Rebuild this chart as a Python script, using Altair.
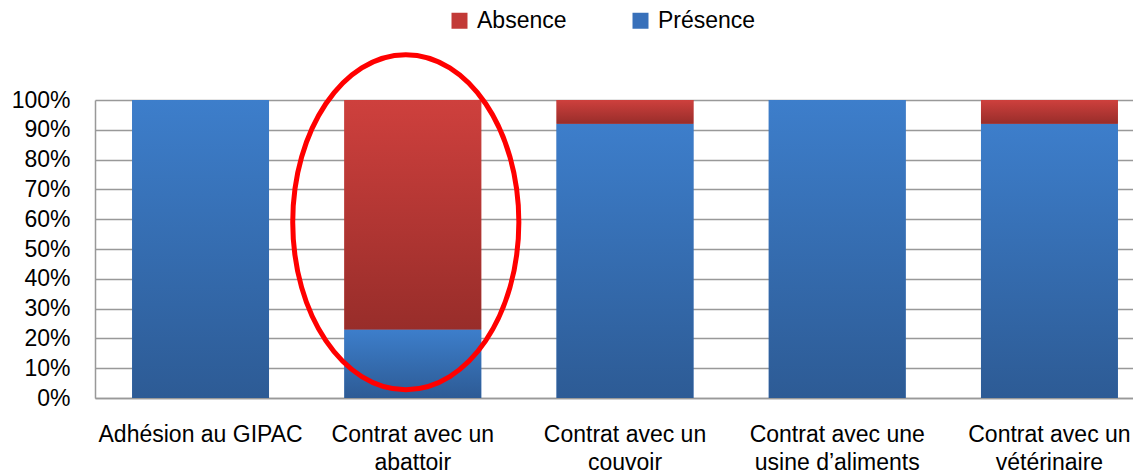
import altair as alt
import pandas as pd

categories = [
    "Adhésion au GIPAC",
    "Contrat avec un abattoir",
    "Contrat avec un couvoir",
    "Contrat avec une usine d’aliments",
    "Contrat avec un vétérinaire",
]
label_lines = [
    ["Adhésion au GIPAC"],
    ["Contrat avec un", "abattoir"],
    ["Contrat avec un", "couvoir"],
    ["Contrat avec une", "usine d’aliments"],
    ["Contrat avec un", "vétérinaire"],
]
presence = [100, 23, 92, 100, 92]
absence = [0, 77, 8, 0, 8]
series = ["Absence", "Présence"]
series_colors = ["#C23A37", "#3870BA"]
y_ticks = [0, 10, 20, 30, 40, 50, 60, 70, 80, 90, 100]

# annotation: red ellipse around the second category
ellipse_category = [categories[1]]
ellipse_centre = [59]

rows = []
for c, p, a in zip(categories, presence, absence):
    rows.append({"categorie": c, "serie": "Présence", "valeur": p, "ordre": 0})
    rows.append({"categorie": c, "serie": "Absence", "valeur": a, "ordre": 1})
df = pd.DataFrame(rows)

# label expression to break category names on two lines
expr = "datum.label"
for cat, lines in reversed(list(zip(categories, label_lines))):
    arr = "[" + ",".join("'" + l + "'" for l in lines) + "]"
    expr = f"datum.label == '{cat}' ? {arr} : ({expr})"

FONT = "Liberation Sans"

x_enc = alt.X(
    "categorie:N",
    sort=categories,
    scale=alt.Scale(range=[0, 1060], paddingInner=0.355, paddingOuter=0.175),
    axis=alt.Axis(
        title=None,
        labelAngle=0,
        labelExpr=expr,
        labelLimit=400,
        labelLineHeight=28,
        labelPadding=25,
        ticks=False,
        grid=False,
        domainColor="#999999",
        domainWidth=1.5,
    ),
)
y_enc = alt.Y(
    "y0:Q",
    scale=alt.Scale(domain=[0, 100], nice=False),
    axis=alt.Axis(
        title=None,
        values=y_ticks,
        labelExpr="datum.value + '%'",
        ticks=False,
        labelPadding=25,
        gridColor="#999999",
        gridWidth=1.5,
        domainColor="#999999",
        domainWidth=1.5,
    ),
)

blue_grad = alt.LinearGradient(
    gradient="linear",
    stops=[alt.GradientStop(color="#3D7ECB", offset=0),
           alt.GradientStop(color="#2D5B95", offset=1)],
    x1=0, x2=0, y1=0, y2=1,
)
red_grad = alt.LinearGradient(
    gradient="linear",
    stops=[alt.GradientStop(color="#CE403D", offset=0),
           alt.GradientStop(color="#982D2A", offset=1)],
    x1=0, x2=0, y1=0, y2=1,
)

base = alt.Chart(df).transform_stack(
    stack="valeur",
    groupby=["categorie"],
    as_=["y0", "y1"],
    sort=[alt.SortField("ordre", order="ascending")],
)

legend_layer = base.mark_bar().encode(
    x=x_enc,
    y=y_enc,
    y2="y1:Q",
    color=alt.Color(
        "serie:N",
        scale=alt.Scale(domain=series, range=series_colors),
        legend=alt.Legend(
            title=None,
            orient="none",
            direction="horizontal",
            legendX=353,
            legendY=-91,
            symbolType="square",
            symbolSize=256,
            symbolStrokeWidth=0,
            labelFontSize=23,
            labelFont=FONT,
            labelColor="#000000",
            labelOffset=6,
            columnPadding=62,
        ),
    ),
)

pres_layer = base.transform_filter(alt.datum.serie == "Présence").mark_bar(
    color=blue_grad
).encode(x=x_enc, y=y_enc, y2="y1:Q")

abs_layer = base.transform_filter(alt.datum.serie == "Absence").mark_bar(
    color=red_grad
).encode(x=x_enc, y=y_enc, y2="y1:Q")

ell_df = pd.DataFrame({"categorie": ellipse_category, "y0": ellipse_centre})
ellipse = alt.Chart(ell_df).mark_point(
    shape="M -0.675 0 A 0.675 1 0 1 0 0.675 0 A 0.675 1 0 1 0 -0.675 0 Z",
    size=112225,
    filled=False,
    stroke="#FF0000",
    strokeWidth=5,
    opacity=1,
    xOffset=-7,
).encode(x=x_enc, y=y_enc)

chart = alt.layer(legend_layer, pres_layer, abs_layer, ellipse).properties(
    width=1038,
    height=298,
    padding={"left": 87, "top": 92, "right": 0, "bottom": 78},
    autosize=alt.AutoSizeParams(type="none"),
).configure_view(stroke=None).configure_axis(
    labelFont=FONT, labelFontSize=23, labelColor="#000000"
)

chart.save("out.html", embed_options={"renderer": "svg", "actions": False})
